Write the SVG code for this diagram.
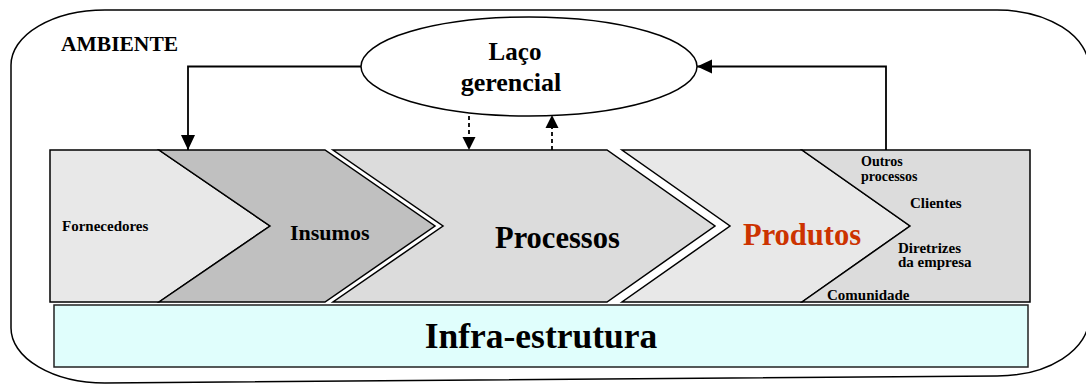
<svg xmlns="http://www.w3.org/2000/svg" width="1086" height="385" viewBox="0 0 1086 385">
  <style>
    text { font-family: "Liberation Serif", "Times New Roman", serif; font-weight: bold; fill: #000; }
    .seg { stroke: #000; stroke-width: 1.5; stroke-linejoin: miter; }
    .link { fill: none; stroke: #000; stroke-width: 1.8; }
    .dash { stroke-dasharray: 4 3; }
    .small { font-size: 15px; }
    .tight { font-size: 14px; }
  </style>
  <defs>
    <marker id="arrow" markerUnits="userSpaceOnUse" markerWidth="16" markerHeight="16" viewBox="0 0 16 16" refX="15" refY="8" orient="auto">
      <path d="M0,1 L15,8 L0,15 Z" fill="#000"/>
    </marker>
    <marker id="arrowSmall" markerUnits="userSpaceOnUse" markerWidth="14" markerHeight="14" viewBox="0 0 14 14" refX="13" refY="7" orient="auto">
      <path d="M0,0.5 L13,7 L0,13.5 Z" fill="#000"/>
    </marker>
  </defs>

  <!-- environment boundary -->
  <g id="ambiente">
    <path d="M105,10 H997 A92,58 0 0 1 1089,68 V318 A92,58 0 0 1 997,376 L105,383 A94,55 0 0 1 11,328 V65 A94,55 0 0 1 105,10 Z" fill="none" stroke="#000" stroke-width="1.5"/>
    <text x="61" y="51" style="font-size:21.5px">AMBIENTE</text>
  </g>

  <!-- value chain band -->
  <g id="fornecedores">
    <polygon class="seg" points="50,150 159,150 270,226 159,302 50,302" fill="#e8e8e8"/>
    <text class="small" x="62" y="231">Fornecedores</text>
  </g>
  <g id="insumos">
    <polygon class="seg" points="159,150 325,150 435,226 325,302 159,302 270,226" fill="#c0c0c0"/>
    <text x="290" y="240" style="font-size:22px">Insumos</text>
  </g>
  <g id="processos">
    <polygon class="seg" points="333,150 607,150 715,226 607,302 333,302 443,226" fill="#dcdcdc"/>
    <text x="495" y="248" style="font-size:30.5px">Processos</text>
  </g>
  <g id="produtos">
    <polygon class="seg" points="622,150 802,150 910,226 802,302 622,302 730,226" fill="#e8e8e8"/>
    <text x="743" y="245" style="font-size:30.5px; fill:#cc3300">Produtos</text>
  </g>
  <g id="destinos">
    <polygon class="seg" points="802,150 1030,150 1030,302 802,302 910,226" fill="#dcdcdc"/>
    <text class="tight" x="861" y="166">Outros</text>
    <text class="tight" x="861" y="181">processos</text>
    <text class="small" x="910" y="208">Clientes</text>
    <text class="small" x="898" y="253">Diretrizes</text>
    <text class="small" x="898" y="267">da empresa</text>
    <text class="small" x="827" y="300">Comunidade</text>
  </g>

  <!-- infrastructure base -->
  <g id="infraestrutura">
    <rect x="54" y="305" width="974" height="62" fill="#e0fefc" stroke="#222" stroke-width="1.5"/>
    <text x="541" y="348" text-anchor="middle" style="font-size:35.5px">Infra-estrutura</text>
  </g>

  <!-- management loop -->
  <g id="laco-gerencial">
    <ellipse cx="529" cy="66.5" rx="168" ry="49.5" fill="#fff" stroke="#000" stroke-width="1.5"/>
    <text x="515" y="60" text-anchor="middle" style="font-size:25px">Laço</text>
    <text x="511" y="91" text-anchor="middle" style="font-size:26px">gerencial</text>
  </g>

  <!-- connectors -->
  <g id="connectors">
    <polyline class="link" points="361,66.5 188,66.5 188,150" marker-end="url(#arrow)"/>
    <polyline class="link" points="886,150 886,66.5 697,66.5" marker-end="url(#arrow)"/>
    <line class="link dash" x1="469" y1="116" x2="469" y2="150" marker-end="url(#arrowSmall)"/>
    <line class="link dash" x1="552" y1="150" x2="552" y2="115" marker-end="url(#arrowSmall)"/>
  </g>
</svg>
